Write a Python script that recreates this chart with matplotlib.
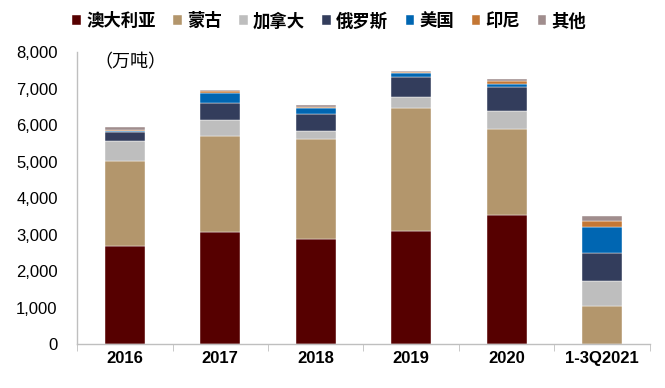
import numpy as np
import matplotlib
matplotlib.use("Agg")
from matplotlib import pyplot as plt
from matplotlib.ticker import FuncFormatter, FixedLocator

plt.rcParams['font.family'] = ['Liberation Sans', 'Noto Sans CJK SC', 'DejaVu Sans']

# Data (万吨)
years = ["2016", "2017", "2018", "2019", "2020", "1-3Q2021"]
australia = [2680, 3080, 2870, 3100, 3530, 0]
mongolia = [2340, 2620, 2755, 3375, 2360, 1050]
canada = [530, 440, 220, 295, 495, 670]
russia = [255, 475, 445, 550, 655, 765]
usa = [20, 260, 190, 115, 90, 710]
indonesia = [50, 50, 10, 25, 75, 175]
other = [70, 35, 45, 20, 55, 145]

series = [
    ("澳大利亚", australia, "#560000"),
    ("蒙古", mongolia, "#B3966C"),
    ("加拿大", canada, "#BEBEBE"),
    ("俄罗斯", russia, "#333D5C"),
    ("美国", usa, "#0066B2"),
    ("印尼", indonesia, "#C47734"),
    ("其他", other, "#A08D8D"),
]

fig = plt.figure(figsize=(6.65, 3.88), dpi=100)
ax = fig.add_axes([0.116, 0.113, 0.861, 0.753])

x = np.arange(len(years))
bottom = np.zeros(len(years))
handles = []
for name, vals, color in series:
    vals = np.array(vals, dtype=float)
    b = ax.bar(x, vals, width=0.42, bottom=bottom, color=color, label=name,
               edgecolor="white", linewidth=0.3)
    handles.append(b)
    bottom += vals

ax.set_xlim(-0.5, len(years) - 0.5)
ax.set_ylim(0, 8000)
ax.set_yticks(np.arange(0, 8001, 1000))
ax.yaxis.set_major_formatter(FuncFormatter(lambda v, p: f"{int(v):,}"))
ax.set_xticks(x)
ax.set_xticklabels(years, fontweight="bold")
ax.xaxis.set_minor_locator(FixedLocator(np.arange(-0.5, len(years), 1.0)))

for side in ["top", "right"]:
    ax.spines[side].set_visible(False)
for side in ["left", "bottom"]:
    ax.spines[side].set_color("#BFBFBF")
    ax.spines[side].set_linewidth(1.0)

ax.tick_params(axis="y", length=0, labelsize=12, pad=14, colors="black")
ax.tick_params(axis="x", which="major", length=0, labelsize=12, pad=5)
ax.tick_params(axis="x", which="minor", length=5, color="#BFBFBF", direction="out")

ax.text(0.03, 0.995, "（万吨）", transform=ax.transAxes, ha="left", va="top",
        fontsize=13, family=["Noto Sans CJK SC", "DejaVu Sans"])

fig.legend(handles=handles, loc="center", bbox_to_anchor=(0.495, 0.945), ncol=7,
           frameon=False, handlelength=0.5, handleheight=0.5, handletextpad=0.3,
           columnspacing=1.0,
           prop={"family": ["Noto Sans CJK SC", "DejaVu Sans"], "size": 12.5, "weight": "bold"})

fig.savefig("out.png", dpi=100)
